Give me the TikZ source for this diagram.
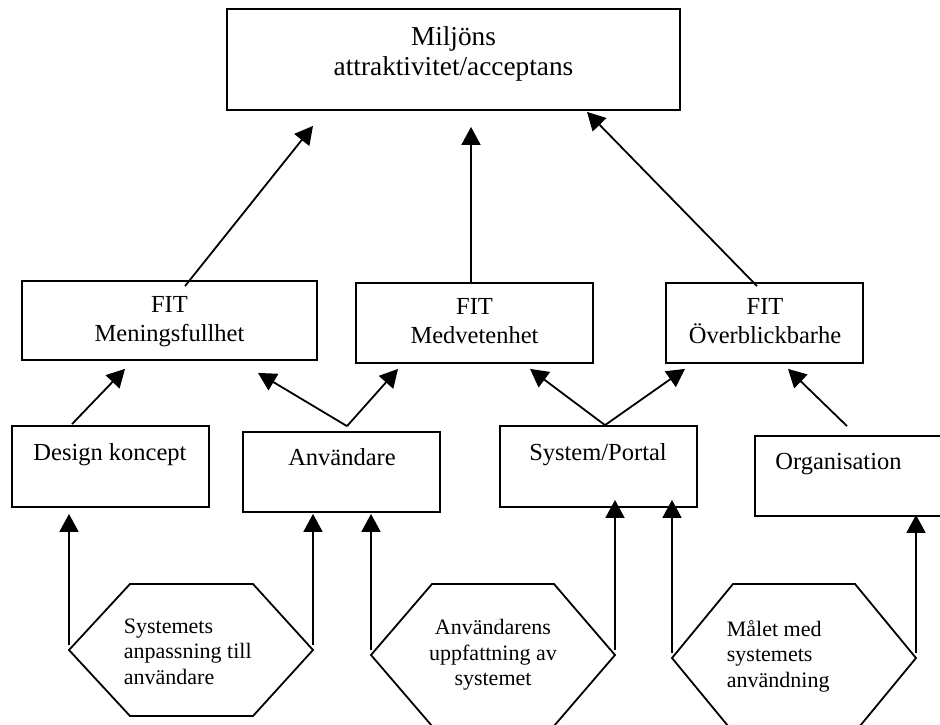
\documentclass[tikz,border=0pt]{standalone}
\usepackage{fontspec}
\setmainfont{Liberation Serif}
\usetikzlibrary{arrows.meta}

\begin{document}
\begin{tikzpicture}[x=1pt, y=-1pt, line width=1.8pt, >={Triangle[length=18pt,width=19pt]},
    box/.style={draw, inner sep=0pt, minimum width=197pt, minimum height=80pt},
    toptext/.style={font=\fontsize{27.3}{30}\selectfont, align=center, inner sep=0pt},
    fittext/.style={font=\fontsize{24.5}{29}\selectfont, align=center, inner sep=0pt},
    boxtext/.style={font=\fontsize{24.5}{29}\selectfont, inner sep=0pt, anchor=base},
    hextext/.style={font=\fontsize{22}{25.5}\selectfont, inner sep=0pt}]
  \useasboundingbox (0,0) rectangle (940,724);
  \clip (0,0) rectangle (940,724);
  \coordinate (h1w) at (69,650);
  \coordinate (h1e) at (313,650);
  \coordinate (h2w) at (371,655);
  \coordinate (h2e) at (615,655);
  \coordinate (h3w) at (672,658);
  \coordinate (h3e) at (916,658);
  \node[box, minimum width=453pt, minimum height=101pt] (mil) at (453.5,59.5) {};
  \node[box, minimum width=295pt, minimum height=79pt] (mf) at (169.5,320.5) {};
  \node[box, minimum width=237pt] (mv) at (474.5,323) {};
  \node[box] (ob) at (764.5,323) {};
  \node[box, minimum height=81pt] (dk) at (110.5,466.5) {};
  \node[box] (anv) at (341.5,472) {};
  \node[box, minimum height=81pt] (sp) at (598.5,466.5) {};
  \node[box] (org) at (853.5,476) {};
  \node[toptext] (mil-t) at (453.5,53.6) {Miljöns\\attraktivitet/acceptans};
  \node[fittext] (mf-t) at (169.5,322) {FIT\\Meningsfullhet};
  \node[fittext] (mv-t) at (474.5,321) {FIT\\Medvetenhet};
  \node[fittext] (ob-t) at (765,321) {FIT\\Överblickbarhe};
  \node[boxtext] (dk-t) at (110,460) {Design koncept};
  \node[boxtext] (anv-t) at (342,465) {Användare};
  \node[boxtext] (sp-t) at (598,460) {System/Portal};
  \node[boxtext] (org-t) at (838.5,469) {Organisation};
  \draw (h1w) -- (130,584) -- (253,584) -- (h1e) -- (253,716) -- (130,716) -- cycle;
  \draw (h2w) -- (432,584) -- (554,584) -- (h2e) -- (554,726) -- (432,726) -- cycle;
  \draw (h3w) -- (733,584) -- (855,584) -- (h3e) -- (855,732) -- (733,732) -- cycle;
  \node[hextext, anchor=west, align=left] (h1-t) at (123,651.5) {Systemets\\anpassning till\\användare};
  \node[hextext, align=center] (h2-t) at (493,655) {Användarens\\uppfattning av\\systemet};
  \node[hextext, anchor=west, align=left] (h3-t) at (726,656) {Målet med\\systemets\\användning};
  \draw[->] ([yshift=5pt]h1w) -- ([yshift=-6pt]h1w |- dk.south);
  \draw[->] ([yshift=5pt]h1e) -- ([yshift=-1pt]h1e |- anv.south);
  \draw[->] ([yshift=5pt]h2w) -- ([yshift=-1pt]h2w |- anv.south);
  \draw[->] ([yshift=5pt]h2e) -- ([yshift=8pt]h2e |- sp.south);
  \draw[->] ([yshift=5pt]h3w) -- ([yshift=8pt]h3w |- sp.south);
  \draw[->] ([yshift=5pt]h3e) -- ([yshift=2pt]h3e |- org.south);
  \draw[->] ([shift={(-38.5,-1)}]dk.north) -- ([shift={(-44.5,8)}]mf.south);
  \draw[->] ([shift={(5.5,-5)}]anv.north) -- ([shift={(88.5,12)}]mf.south);
  \draw[->] ([shift={(5.5,-5)}]anv.north) -- ([shift={(-76.5,5)}]mv.south);
  \draw[->] ([shift={(6.5,0)}]sp.north) -- ([shift={(55.5,5)}]mv.south);
  \draw[->] ([shift={(6.5,0)}]sp.north) -- ([shift={(-79.5,5)}]ob.south);
  \draw[->] ([shift={(-6.5,-9)}]org.north) -- ([shift={(23.5,5)}]ob.south);
  \draw[->] ([shift={(15.5,6)}]mf.north) -- ([shift={(-140.5,15)}]mil.south);
  \draw[->] ([shift={(-3.5,2)}]mv.north) -- ([shift={(17.5,16)}]mil.south);
  \draw[->] ([shift={(-7.5,4)}]ob.north) -- ([shift={(133.5,1)}]mil.south);
\end{tikzpicture}
\end{document}
